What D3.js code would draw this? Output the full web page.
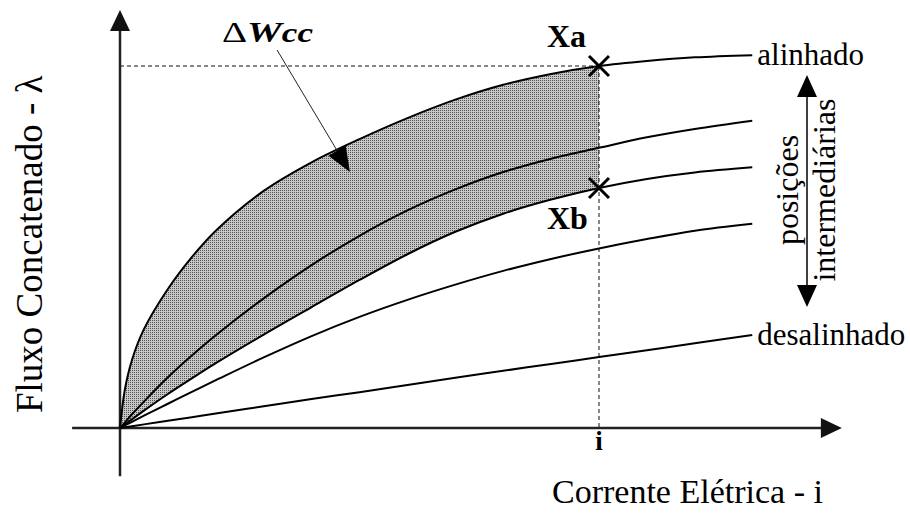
<!DOCTYPE html>
<html>
<head>
<meta charset="utf-8">
<script src="https://cdn.jsdelivr.net/npm/d3@7"></script>
</head>
<body style="margin:0">
<div id="chart"></div>
<script>
/* global d3 */

// current (i = 10 is the marked operating current)
var current = [0, 0.1, 0.25, 0.5, 1, 1.5, 2, 3, 4, 5, 6, 7, 8, 9, 10, 11, 12, 13.2];

// flux linkage per rotor position, one value per current
var fluxAligned   = [0, 1.05, 1.88, 2.73, 3.84, 4.72, 5.45, 6.55, 7.34, 7.98, 8.56, 9.07, 9.48, 9.78, 10.0, 10.14, 10.24, 10.30];
var fluxInter1    = [0, 0.15, 0.38, 0.73, 1.40, 2.00, 2.56, 3.58, 4.50, 5.31, 6.01, 6.59, 7.07, 7.44, 7.74, 8.03, 8.26, 8.49];
var fluxInter2    = [0, 0.10, 0.24, 0.48, 0.94, 1.37, 1.79, 2.58, 3.34, 4.09, 4.80, 5.42, 5.92, 6.31, 6.63, 6.88, 7.06, 7.20];
var fluxInter3    = [0, 0.07, 0.17, 0.34, 0.67, 1.00, 1.32, 1.95, 2.54, 3.07, 3.54, 3.96, 4.34, 4.67, 4.96, 5.22, 5.45, 5.64];
var fluxUnaligned = [0, 0.02, 0.05, 0.10, 0.20, 0.30, 0.40, 0.60, 0.80, 0.99, 1.19, 1.39, 1.58, 1.77, 1.96, 2.15, 2.34, 2.57];

var seriesFlux = [fluxAligned, fluxInter1, fluxInter2, fluxInter3, fluxUnaligned];
var seriesNames = ['alinhado', '', '', '', 'desalinhado'];

var iMark = 10;

var chart = {};

chart.WIDTH = 910;
chart.HEIGHT = 513;

chart.x = d3.scaleLinear().domain([0, 10]).range([120, 599]);
chart.y = d3.scaleLinear().domain([0, 10]).range([428, 66]);

// plain serif label, same face everywhere
chart.label = function (parent, size, str) {
  'use strict';
  return parent.append('text')
    .attr('font-size', size)
    .style('font-family', '"Liberation Serif"')
    .text(str);
};

chart.draw = function () {
  'use strict';

  var x = chart.x, y = chart.y;
  var last = current.length - 1;
  var iAt = current.indexOf(iMark);

  var svg = d3.select('#chart')
    .append('svg')
    .attr('width', chart.WIDTH)
    .attr('height', chart.HEIGHT);

  var defs = svg.append('defs');
  var pat = defs.append('pattern')
    .attr('id', 'stipple')
    .attr('patternUnits', 'userSpaceOnUse')
    .attr('width', 2)
    .attr('height', 2);
  pat.append('rect').attr('width', 2).attr('height', 2).attr('fill', '#c8c8c8');
  pat.append('rect').attr('width', 1).attr('height', 1).attr('fill', '#505050');

  defs.append('clipPath')
    .attr('id', 'clipShade')
    .append('rect')
    .attr('x', x(0))
    .attr('y', 0)
    .attr('width', x(iMark) - x(0))
    .attr('height', chart.HEIGHT);

  var smooth = d3.curveCatmullRom.alpha(0.5);

  // shaded co-energy between aligned curve and the lower intermediate curve
  var area = d3.area()
    .x(function (d, k) { return x(current[k]); })
    .y0(function (d, k) { return y(fluxInter2[k]); })
    .y1(function (d, k) { return y(fluxAligned[k]); })
    .curve(smooth);

  svg.append('path')
    .datum(current)
    .attr('d', area)
    .attr('fill', 'url(#stipple)')
    .attr('clip-path', 'url(#clipShade)');

  // dashed guides
  svg.append('line')
    .attr('x1', x(0)).attr('y1', y(fluxAligned[iAt]))
    .attr('x2', x(iMark)).attr('y2', y(fluxAligned[iAt]))
    .attr('stroke', '#111').attr('stroke-width', 1)
    .attr('stroke-dasharray', '4,3');
  svg.append('line')
    .attr('x1', x(iMark)).attr('y1', y(fluxAligned[iAt]))
    .attr('x2', x(iMark)).attr('y2', y(0))
    .attr('stroke', '#111').attr('stroke-width', 1)
    .attr('stroke-dasharray', '4,3');

  // axes
  var xMin = -1.0, xMax = 15.07, yMin = -1.33, yMax = 11.55;
  svg.append('line')
    .attr('x1', x(xMin)).attr('y1', y(0))
    .attr('x2', x(xMax) - 10).attr('y2', y(0))
    .attr('stroke', '#222').attr('stroke-width', 2.5);
  svg.append('path')
    .attr('d', 'M' + x(xMax) + ',' + y(0) + 'l-21,-10l0,20z')
    .attr('fill', '#111');
  svg.append('line')
    .attr('x1', x(0)).attr('y1', y(yMin))
    .attr('x2', x(0)).attr('y2', y(yMax) + 10)
    .attr('stroke', '#222').attr('stroke-width', 2.5);
  svg.append('path')
    .attr('d', 'M' + x(0) + ',' + y(yMax) + 'l-10,21l20,0z')
    .attr('fill', '#111');

  // curves
  var line = d3.line()
    .x(function (d, k) { return x(current[k]); })
    .y(function (d) { return y(d); })
    .curve(smooth);

  svg.selectAll('path.curve')
    .data(seriesFlux)
    .enter()
    .append('path')
    .attr('class', 'curve')
    .attr('d', line)
    .attr('fill', 'none')
    .attr('stroke', '#000')
    .attr('stroke-width', 2);

  seriesFlux.forEach(function (d, k) {
    if (!seriesNames[k]) { return; }
    chart.label(svg, 31, seriesNames[k])
      .attr('x', x(current[last]) + 5)
      .attr('y', y(d[last]) + 10);
  });

  // operating points Xa, Xb
  var cross = 'M-10,-10L10,10M-10,10L10,-10';
  [fluxAligned[iAt], fluxInter2[iAt]].forEach(function (v) {
    svg.append('path')
      .attr('d', cross)
      .attr('transform', 'translate(' + x(iMark) + ',' + y(v) + ')')
      .attr('stroke', '#000')
      .attr('stroke-width', 3);
  });

  chart.label(svg, 32, 'Xa')
    .attr('x', x(iMark) - 52).attr('y', y(fluxAligned[iAt]) - 19)
    .attr('font-weight', 'bold');

  chart.label(svg, 32, 'Xb')
    .attr('x', x(iMark) - 52).attr('y', y(fluxInter2[iAt]) + 41)
    .attr('font-weight', 'bold');

  chart.label(svg, 27, 'i')
    .attr('x', x(iMark)).attr('y', y(0) + 22)
    .attr('text-anchor', 'middle')
    .attr('font-weight', 'bold');

  // delta W label and its arrow
  var dw = chart.label(svg, 30, null)
    .attr('x', 222).attr('y', 42)
    .attr('textLength', 91)
    .attr('lengthAdjust', 'spacingAndGlyphs');
  dw.append('tspan').text('\u0394');
  dw.append('tspan').attr('font-style', 'italic').attr('font-weight', 'bold').text('W');
  dw.append('tspan').attr('font-style', 'italic').attr('font-weight', 'bold').attr('font-size', 27).text('cc');

  var a0 = [x(3.28), y(10.44)], a1 = [x(4.80), y(7.07)];
  var dx = a1[0] - a0[0], dy = a1[1] - a0[1], len = Math.sqrt(dx * dx + dy * dy);
  var ux = dx / len, uy = dy / len;
  var bx = a1[0] - ux * 25, by = a1[1] - uy * 25;
  svg.append('line')
    .attr('x1', a0[0]).attr('y1', a0[1])
    .attr('x2', bx).attr('y2', by)
    .attr('stroke', '#222').attr('stroke-width', 1);
  svg.append('path')
    .attr('d', 'M' + a1[0] + ',' + a1[1] +
      'L' + (bx - uy * 10) + ',' + (by + ux * 10) +
      'L' + (bx + uy * 10) + ',' + (by - ux * 10) + 'Z')
    .attr('fill', '#000');

  // intermediate positions double arrow
  var ax = 807, aTop = 75, aBot = 307;
  svg.append('line')
    .attr('x1', ax).attr('y1', aTop + 20)
    .attr('x2', ax).attr('y2', aBot - 20)
    .attr('stroke', '#000').attr('stroke-width', 1.5);
  svg.append('path')
    .attr('d', 'M' + ax + ',' + aTop + 'l-10,22l20,0z')
    .attr('fill', '#000');
  svg.append('path')
    .attr('d', 'M' + ax + ',' + aBot + 'l-10,-22l20,0z')
    .attr('fill', '#000');

  chart.label(svg, 32, 'posições')
    .attr('transform', 'translate(798,190) rotate(-90)')
    .attr('text-anchor', 'middle');
  chart.label(svg, 32, 'intermediárias')
    .attr('transform', 'translate(835,190) rotate(-90)')
    .attr('text-anchor', 'middle');

  // axis titles
  chart.label(svg, 34, 'Corrente Elétrica - i')
    .attr('x', 552).attr('y', 503);

  chart.label(svg, 37, 'Fluxo Concatenado - \u03bb')
    .attr('transform', 'translate(42,413) rotate(-90)');
};

chart.draw();
</script>
</body>
</html>
